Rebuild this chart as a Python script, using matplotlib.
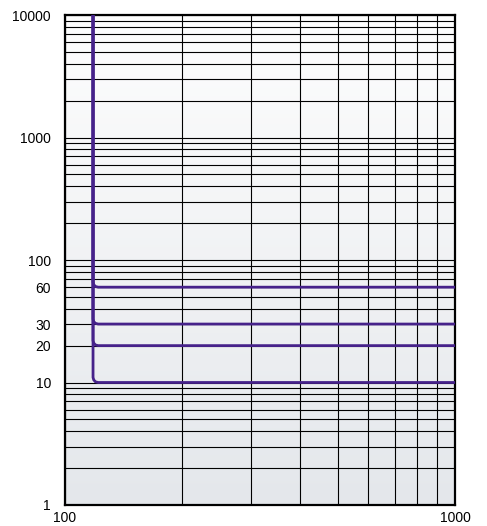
import numpy as np
import matplotlib.pyplot as plt
from matplotlib.ticker import NullFormatter

plt.rcParams['font.family'] = ['Liberation Sans', 'DejaVu Sans']

# vertical part of every curve sits at ~118, then bends onto its level
curve_x = [118, 118, 118.5, 119.7, 121.6, 1000]
curve_60 = [10000, 66, 62.9, 60.8, 60, 60]
curve_30 = [10000, 33, 31.4, 30.4, 30, 30]
curve_20 = [10000, 22, 21, 20.25, 20, 20]
curve_10 = [10000, 11, 10.5, 10.13, 10, 10]

y_ticks = [1, 10, 20, 30, 60, 100, 1000, 10000]
x_ticks = [100, 1000]

fig = plt.figure(figsize=(4.87, 5.26), dpi=100)
ax = fig.add_axes([65 / 487, 21 / 526, 390 / 487, 490 / 526])

# light gradient background, white at top to pale grey-blue at bottom
grad = np.linspace(0, 1, 256).reshape(-1, 1)
top = np.array([0.995, 0.995, 0.995])
bot = np.array([0.894, 0.906, 0.922])
img = top + (bot - top) * grad[:, :, None]
ax.imshow(img, extent=[0, 1, 0, 1], transform=ax.transAxes, aspect='auto', zorder=0)

ax.set_xscale('log')
ax.set_yscale('log')
ax.set_xlim(100, 1000)
ax.set_ylim(1, 10000)

for ys in [curve_60, curve_30, curve_20, curve_10]:
    ax.plot(curve_x, ys, color='#46228a', lw=2, solid_joinstyle='round', zorder=3)

ax.grid(which='both', color='black', lw=0.8, zorder=1)
for s in ax.spines.values():
    s.set_linewidth(1.6)

ax.set_yticks(y_ticks)
ax.set_yticklabels([str(v) for v in y_ticks])
ax.set_xticks(x_ticks)
ax.set_xticklabels([str(v) for v in x_ticks])
ax.xaxis.set_minor_formatter(NullFormatter())
ax.yaxis.set_minor_formatter(NullFormatter())
ax.tick_params(which='both', length=0, labelsize=10)
ax.tick_params(axis='y', pad=10)
ax.tick_params(axis='x', pad=4)

fig.savefig('out.png', dpi=100)
